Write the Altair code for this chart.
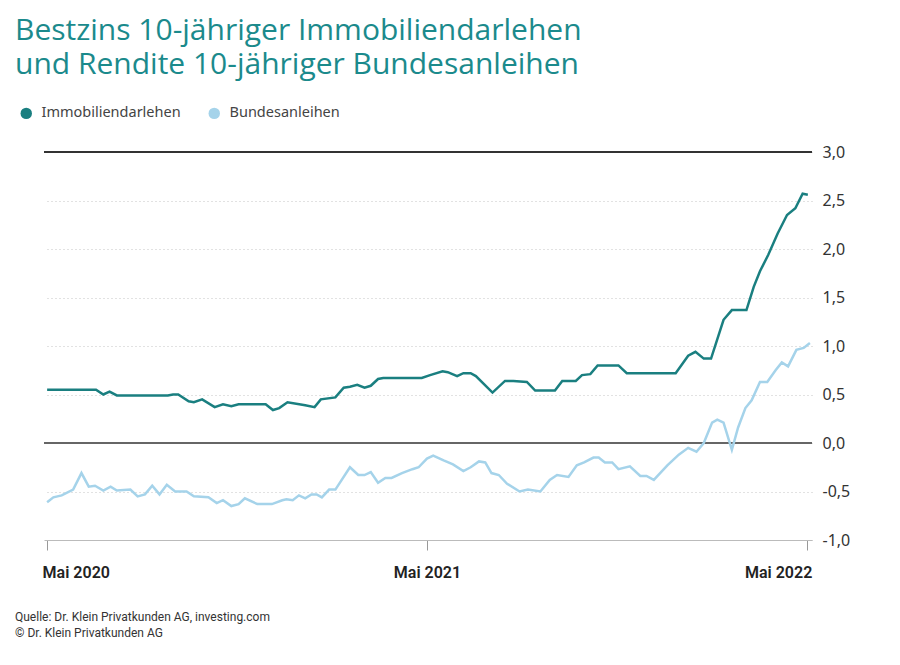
import altair as alt
import pandas as pd

START = "2020-05-01"

titel = ["Bestzins 10-jähriger Immobiliendarlehen", "und Rendite 10-jähriger Bundesanleihen"]
quelle = ["Quelle: Dr. Klein Privatkunden AG, investing.com", "© Dr. Klein Privatkunden AG"]
serien = ["Immobiliendarlehen", "Bundesanleihen"]

# Tage seit 01.05.2020 und Werte (in %)
immo_tage = [0, 47, 54, 60, 67, 116, 121, 126, 136, 141, 149, 161, 169, 177, 184, 210, 217, 223, 231, 248,
             257, 263, 277, 285, 291, 298, 305, 311, 318, 323, 360, 368, 380, 385, 394, 400, 407, 412, 428, 440,
             448, 461, 469, 488, 495, 508, 514, 522, 529, 549, 557, 604, 616, 623, 631, 638, 650, 658, 672, 679,
             685, 693, 702, 711, 719, 726, 731]
immo_zins = [0.55, 0.55, 0.50, 0.53, 0.49, 0.49, 0.50, 0.50, 0.43, 0.42, 0.45, 0.37, 0.40, 0.38, 0.40, 0.40,
             0.34, 0.36, 0.42, 0.39, 0.37, 0.45, 0.47, 0.57, 0.58, 0.60, 0.57, 0.59, 0.66, 0.67, 0.67, 0.70,
             0.74, 0.73, 0.69, 0.72, 0.72, 0.69, 0.52, 0.64, 0.64, 0.63, 0.54, 0.54, 0.64, 0.64, 0.70, 0.71,
             0.80, 0.80, 0.72, 0.72, 0.90, 0.94, 0.87, 0.87, 1.27, 1.37, 1.37, 1.61, 1.77, 1.94, 2.16, 2.35,
             2.42, 2.57, 2.56]

bund_tage = [0, 6, 14, 25, 33, 40, 46, 54, 61, 67, 80, 87, 94, 101, 108, 115, 123, 134, 141, 155,
             163, 169, 177, 184, 190, 202, 216, 226, 230, 236, 242, 248, 254, 259, 264, 271, 277, 291, 299, 305,
             311, 318, 325, 331, 341, 351, 357, 365, 371, 381, 390, 400, 407, 415, 421, 427, 434, 442, 454, 462,
             474, 483, 490, 501, 509, 516, 525, 530, 536, 543, 549, 560, 570, 576, 583, 596, 607, 616, 624, 631,
             639, 644, 650, 658, 664, 671, 677, 685, 692, 700, 706, 712, 720, 727, 733]
bund_rendite = [-0.61, -0.56, -0.54, -0.48, -0.31, -0.45, -0.44, -0.49, -0.45, -0.49, -0.48, -0.55, -0.53,
                -0.44, -0.53, -0.43, -0.50, -0.50, -0.55, -0.56, -0.62, -0.59, -0.65, -0.63, -0.57, -0.63,
                -0.63, -0.59, -0.58, -0.59, -0.54, -0.57, -0.53, -0.53, -0.56, -0.48, -0.48, -0.25, -0.33,
                -0.33, -0.30, -0.41, -0.36, -0.36, -0.31, -0.27, -0.25, -0.16, -0.13, -0.18, -0.22, -0.29,
                -0.25, -0.19, -0.20, -0.31, -0.33, -0.42, -0.50, -0.48, -0.50, -0.38, -0.33, -0.35, -0.23,
                -0.20, -0.15, -0.15, -0.20, -0.20, -0.27, -0.24, -0.34, -0.34, -0.38, -0.23, -0.12, -0.05,
                -0.09, 0.00, 0.21, 0.24, 0.21, -0.07, 0.16, 0.36, 0.44, 0.63, 0.63, 0.75, 0.83, 0.79,
                0.96, 0.98, 1.03]

y_ticks = [-1.0, -0.5, 0.0, 0.5, 1.0, 1.5, 2.0, 2.5, 3.0]
x_jahre = [2020, 2021, 2022]
linien = [3.0, 0.0]

start = pd.Timestamp(START)
df = pd.concat([
    pd.DataFrame({"datum": start + pd.to_timedelta(immo_tage, unit="D"), "wert": immo_zins, "serie": serien[0]}),
    pd.DataFrame({"datum": start + pd.to_timedelta(bund_tage, unit="D"), "wert": bund_rendite, "serie": serien[1]}),
])

TEAL = "#1b8a8c"
DARK = "#1a7f80"
LIGHT = "#a5d3ea"

y_enc = alt.Y(
    "wert:Q",
    scale=alt.Scale(domain=[-1, 3], nice=False, zero=False),
    axis=alt.Axis(
        orient="right", values=y_ticks, title=None, domain=False, ticks=False,
        grid=True, gridDash=[1, 3], gridColor="#c4c4c4", gridWidth=1,
        labelExpr="replace(replace(format(datum.value, '.1f'), '.', ','), '\u2212', '-')",
        labelPadding=10, labelFontSize=16, labelColor="#333", labelFont="Noto Sans",
    ),
)

x_enc = alt.X(
    "datum:T",
    scale=alt.Scale(domain=[alt.DateTime(year=2020, month=4, date=28), alt.DateTime(year=2022, month=5, date=6)]),
    axis=alt.Axis(
        values=[alt.DateTime(year=j, month=5, date=1) for j in x_jahre],
        labelExpr="'Mai ' + timeFormat(datum.value, '%Y')",
        title=None, grid=False, domainColor="#bbbbbb", domainWidth=1.2,
        tickColor="#999999", tickSize=10, labelFlush=8, labelFlushOffset=5, labelFontSize=16,
        labelFontWeight=600, labelColor="#222", labelFont="Roboto", labelPadding=14,
    ),
)

farb_skala = alt.Scale(domain=serien, range=[DARK, LIGHT])

rules = alt.Chart(pd.DataFrame({"wert": linien})).mark_rule(strokeWidth=1.8).encode(
    y=alt.Y("wert:Q"),
    color=alt.condition("datum.wert == 3", alt.value("#333333"), alt.value("#666666")),
)

lines = alt.Chart(df).mark_line(strokeWidth=2.5).encode(
    x=x_enc,
    y=y_enc,
    stroke=alt.Stroke("serie:N", scale=farb_skala, sort=serien, legend=None),
)

# invisible points that only carry the filled-circle legend
legend_pts = alt.Chart(df).mark_circle(opacity=0).encode(
    x=alt.X("datum:T"),
    y=alt.Y("wert:Q"),
    fill=alt.Fill(
        "serie:N", scale=farb_skala, sort=serien,
        legend=alt.Legend(
            title=None, orient="none", legendX=-25, legendY=-46, direction="horizontal",
            symbolType="circle", symbolSize=130, symbolOpacity=1, labelFontSize=14.5,
            labelColor="#444", labelFont="Noto Sans", columnPadding=26, labelOffset=8,
        ),
    ),
)

footer = alt.Chart(pd.DataFrame({"q": ["\n".join(quelle)]})).mark_text(
    align="left", baseline="top", fontSize=12, lineHeight=16, color="#333", font="Roboto",
    lineBreak="\n",
).encode(text="q:N", x=alt.value(-29), y=alt.value(460))

chart = alt.layer(rules, lines, legend_pts, footer).properties(
    width=768, height=388,
    padding={"left": 36, "top": 144, "right": 80, "bottom": 110},
    autosize=alt.AutoSizeParams(type="none"),
    title=alt.TitleParams(
        text=titel[0], subtitle=titel[1], anchor="start", frame="group", dx=-29, offset=26,
        fontSize=30, fontWeight="normal", color=TEAL, font="Open Sans",
        subtitleFontSize=30, subtitleColor=TEAL, subtitleFont="Open Sans",
        subtitleFontWeight="normal", subtitlePadding=4,
    ),
).resolve_scale(stroke="independent", fill="independent").configure_view(stroke=None)

chart.save("out.html", embed_options={"renderer": "svg", "actions": False})
